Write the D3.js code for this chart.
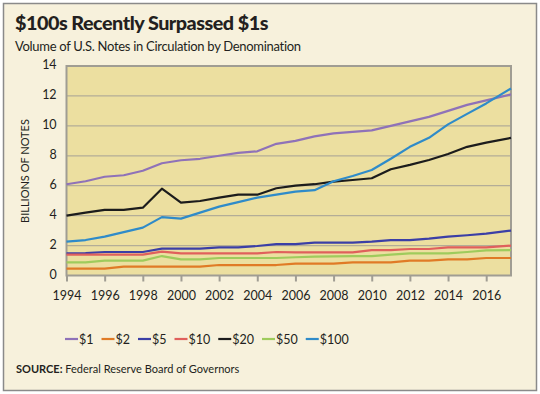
<!DOCTYPE html>
<html><head><meta charset="utf-8">
<script src="https://cdn.jsdelivr.net/npm/d3@7"></script>
<style>body{margin:0;background:#fff}svg{display:block}</style>
</head><body>
<svg id="c" width="540" height="394"></svg>
<script>
const years = [1994,1995,1996,1997,1998,1999,2000,2001,2002,2003,2004,2005,2006,2007,2008,2009,2010,2011,2012,2013,2014,2015,2016,2017.3];
const xTicks = [1994,1996,1998,2000,2002,2004,2006,2008,2010,2012,2014,2016];
const yTicks = [0,2,4,6,8,10,12,14];
const seriesNames = ["$1","$2","$5","$10","$20","$50","$100"];
const seriesColors = ["#8f72b8","#e07b26","#3b3fa6","#e0605c","#1c1c1c","#9fcb5c","#2f8bc9"];
const v1   = [6.1,6.3,6.6,6.7,7.0,7.5,7.7,7.8,8.0,8.2,8.3,8.8,9.0,9.3,9.5,9.6,9.7,10.0,10.3,10.6,11.0,11.4,11.7,12.1];
const v2   = [0.46,0.46,0.46,0.59,0.59,0.59,0.59,0.59,0.7,0.7,0.7,0.7,0.8,0.8,0.8,0.88,0.88,0.88,0.99,0.99,1.08,1.08,1.17,1.17];
const v5   = [1.48,1.5,1.57,1.57,1.57,1.8,1.8,1.8,1.88,1.88,1.97,2.1,2.1,2.2,2.2,2.2,2.26,2.37,2.37,2.46,2.6,2.69,2.8,3.0];
const v10  = [1.39,1.39,1.39,1.39,1.39,1.59,1.48,1.48,1.48,1.48,1.48,1.57,1.55,1.55,1.55,1.55,1.7,1.7,1.77,1.77,1.88,1.88,1.88,2.0];
const v20  = [4.0,4.2,4.38,4.38,4.53,5.8,4.87,4.98,5.2,5.4,5.4,5.83,6.0,6.1,6.27,6.38,6.5,7.1,7.39,7.72,8.12,8.6,8.88,9.2];
const v50  = [0.88,0.88,0.99,0.99,0.99,1.3,1.08,1.08,1.17,1.17,1.17,1.17,1.22,1.26,1.28,1.3,1.3,1.4,1.48,1.48,1.48,1.57,1.68,1.7];
const v100 = [2.26,2.37,2.6,2.9,3.2,3.9,3.8,4.2,4.6,4.9,5.2,5.4,5.6,5.7,6.3,6.65,7.05,7.8,8.6,9.2,10.1,10.8,11.5,12.5];
const seriesValues = [v1,v2,v5,v10,v20,v50,v100];

const svg = d3.select("#c");
const font = "Lato, 'Open Sans', sans-serif";
svg.append("rect").attr("x",3.5).attr("y",3.5).attr("width",533).attr("height",387)
  .attr("fill","#f7f1dc").attr("stroke","#8a8a8a").attr("stroke-width",1.5);

svg.append("text").attr("x",15).attr("y",30).attr("font-family",font).attr("font-weight",900)
  .attr("font-size",19.8).attr("fill","#231f20").attr("letter-spacing",-0.5).text("$100s Recently Surpassed $1s");
svg.append("text").attr("x",15).attr("y",51).attr("font-family",font)
  .attr("font-size",13).attr("fill","#231f20").attr("letter-spacing",-0.3).text("Volume of U.S. Notes in Circulation by Denomination");

const x = d3.scaleLinear().domain([1994,2017.3]).range([66.5,511]);
const y = d3.scaleLinear().domain([0,14]).range([275.5,66]);

svg.append("rect").attr("x",x(1994)).attr("y",y(14)).attr("width",x(2017.3)-x(1994)).attr("height",y(0)-y(14))
  .attr("fill","#ecdfa0");
svg.append("g").selectAll("line").data(yTicks.slice(1,-1)).join("line")
  .attr("x1",x(1994)).attr("x2",x(2017.3)).attr("y1",d=>y(d)).attr("y2",d=>y(d))
  .attr("stroke","#b3ad97").attr("stroke-width",1.2);
svg.append("rect").attr("x",x(1994)).attr("y",y(14)).attr("width",x(2017.3)-x(1994)).attr("height",y(0)-y(14))
  .attr("fill","none").attr("stroke","#a09d93").attr("stroke-width",2);

const xAxis = svg.append("g").attr("transform",`translate(0,${y(0)})`)
  .call(d3.axisBottom(x).tickValues(xTicks).tickFormat(d3.format("d")).tickSize(6).tickSizeOuter(0));
xAxis.select(".domain").remove();
xAxis.selectAll("line").attr("stroke","#a09d93").attr("stroke-width",2);
xAxis.selectAll("text").attr("font-family",font).attr("font-size",12.5).attr("fill","#231f20").attr("dy","1.2em");

const yAxis = svg.append("g").attr("transform",`translate(${x(1994)},0)`)
  .call(d3.axisLeft(y).tickValues(yTicks).tickSize(0));
yAxis.select(".domain").remove();
yAxis.selectAll("text").attr("font-family",font).attr("font-size",12.5).attr("fill","#231f20").attr("dx","-0.55em").attr("dy","0.2em");

svg.append("text").attr("transform","translate(29,171) rotate(-90)").attr("text-anchor","middle")
  .attr("font-family",font).attr("font-size",11).attr("fill","#231f20").text("BILLIONS OF NOTES");

const line = d3.line().x((d,i)=>x(years[i])).y(d=>y(d));
svg.append("g").selectAll("path").data(seriesValues).join("path")
  .attr("d",line).attr("fill","none").attr("stroke",(d,i)=>seriesColors[i])
  .attr("stroke-width",2.2).attr("stroke-linejoin","round");

const lg = svg.append("g");
let lx = 65;
seriesNames.forEach((n,i)=>{
  lg.append("line").attr("x1",lx).attr("x2",lx+13).attr("y1",339).attr("y2",339)
    .attr("stroke",seriesColors[i]).attr("stroke-width",2.2);
  const t = lg.append("text").attr("x",lx+14).attr("y",343.5).attr("font-family",font)
    .attr("font-size",12.5).attr("fill","#231f20").text(n);
  lx += 14 + t.node().getComputedTextLength() + 8;
});

const src = svg.append("text").attr("x",16).attr("y",373).attr("font-family",font).attr("font-size",11).attr("fill","#231f20");
src.append("tspan").attr("font-weight",700).text("SOURCE:");
src.append("tspan").text(" Federal Reserve Board of Governors");
</script>
</body></html>
